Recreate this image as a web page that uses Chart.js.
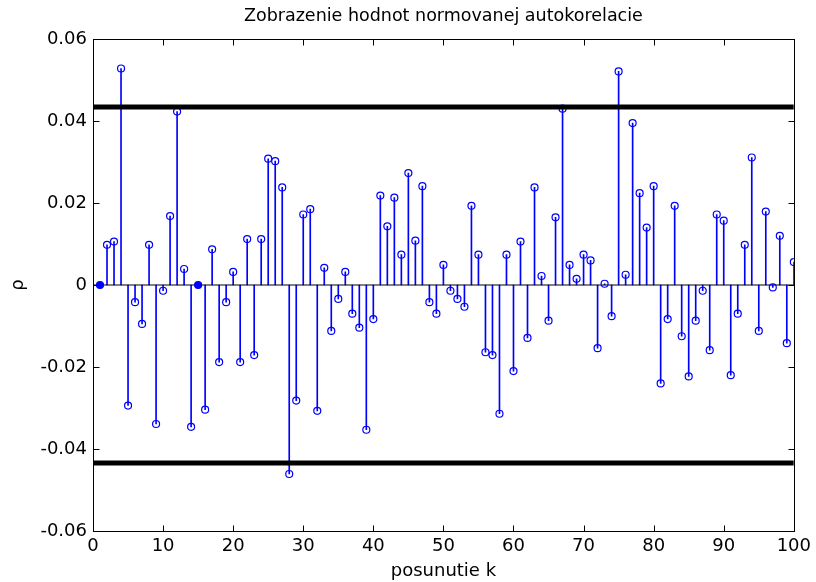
<!DOCTYPE html>
<html>
<head>
<meta charset="utf-8">
<title>Zobrazenie hodnot normovanej autokorelacie</title>
<script src="https://cdn.jsdelivr.net/npm/chart.js@4/dist/chart.umd.min.js"></script>
<style>
  html, body { margin: 0; padding: 0; background: #fff; }
  #chart { display: block; }
</style>
</head>
<body>
<canvas id="chart" width="816" height="582"></canvas>
<script>
// posunutie k
const lags = [
  1, 2, 3, 4, 5, 6, 7, 8, 9, 10,
  11, 12, 13, 14, 15, 16, 17, 18, 19, 20,
  21, 22, 23, 24, 25, 26, 27, 28, 29, 30,
  31, 32, 33, 34, 35, 36, 37, 38, 39, 40,
  41, 42, 43, 44, 45, 46, 47, 48, 49, 50,
  51, 52, 53, 54, 55, 56, 57, 58, 59, 60,
  61, 62, 63, 64, 65, 66, 67, 68, 69, 70,
  71, 72, 73, 74, 75, 76, 77, 78, 79, 80,
  81, 82, 83, 84, 85, 86, 87, 88, 89, 90,
  91, 92, 93, 94, 95, 96, 97, 98, 99, 100
];

// normovana autokorelacia rho(k), odcitane z obrazku
const rho = [
  0, 0.0098, 0.0106, 0.0528, -0.0294, -0.0042, -0.0095, 0.0098, -0.0339, -0.0014,
  0.0168, 0.0423, 0.0039, -0.0346, 0, -0.0304, 0.0087, -0.0188, -0.0042, 0.0032,
  -0.0188, 0.0112, -0.0171, 0.0112, 0.0308, 0.0302, 0.0238, -0.0461, -0.0282, 0.0172,
  0.0185, -0.0307, 0.0042, -0.0112, -0.0034, 0.0032, -0.0070, -0.0104, -0.0353, -0.0083,
  0.0218, 0.0143, 0.0213, 0.0074, 0.0273, 0.0108, 0.0241, -0.0042, -0.0070, 0.0049,
  -0.0014, -0.0034, -0.0053, 0.0193, 0.0074, -0.0164, -0.0171, -0.0314, 0.0074, -0.0210,
  0.0106, -0.0129, 0.0238, 0.0022, -0.0087, 0.0165, 0.0430, 0.0049, 0.0015, 0.0074,
  0.0060, -0.0154, 0.0003, -0.0076, 0.0521, 0.0025, 0.0395, 0.0224, 0.0140, 0.0241,
  -0.0240, -0.0083, 0.0193, -0.0125, -0.0223, -0.0087, -0.0014, -0.0159, 0.0172, 0.0157,
  -0.0220, -0.0070, 0.0098, 0.0311, -0.0112, 0.0179, -0.0006, 0.0120, -0.0142, 0.0056
];

// hranica vyznamnosti (+/-)
const confLimit = 0.0434;
const xRange = [0, 100];
const yRange = [-0.06, 0.06];
const xTickStep = 10;
const yTickStep = 0.02;

const stemColor = '#0000ff';
const fontFamily = '"DejaVu Sans", "Liberation Sans", Arial, sans-serif';

const points = lags.map((k, i) => ({ x: k, y: rho[i] }));
const upperLine = xRange.map(x => ({ x: x, y: confLimit }));
const lowerLine = xRange.map(x => ({ x: x, y: -confLimit }));
const baseLine = xRange.map(x => ({ x: x, y: 0 }));

// MATLAB-like box with inward ticks on all four sides
const boxTicks = {
  id: 'boxTicks',
  afterDatasetsDraw(chart) {
    const { ctx, chartArea: a, scales } = chart;
    const len = 6;
    const px = v => Math.round(v) + 0.5;
    ctx.save();
    ctx.strokeStyle = '#000';
    ctx.lineWidth = 1;
    ctx.beginPath();
    scales.x.ticks.forEach(t => {
      const x = px(scales.x.getPixelForValue(t.value));
      ctx.moveTo(x, px(a.bottom)); ctx.lineTo(x, px(a.bottom) - len);
      ctx.moveTo(x, px(a.top)); ctx.lineTo(x, px(a.top) + len);
    });
    scales.y.ticks.forEach(t => {
      const y = px(scales.y.getPixelForValue(t.value));
      ctx.moveTo(px(a.left), y); ctx.lineTo(px(a.left) + len, y);
      ctx.moveTo(px(a.right), y); ctx.lineTo(px(a.right) - len, y);
    });
    ctx.stroke();
    ctx.strokeRect(px(a.left), px(a.top), Math.round(a.right - a.left), Math.round(a.bottom - a.top));
    ctx.restore();
  }
};

new Chart(document.getElementById('chart'), {
  type: 'bar',
  data: {
    datasets: [
      {
        type: 'line',
        label: 'horna hranica',
        data: upperLine,
        borderColor: '#000',
        borderWidth: 5,
        pointRadius: 0,
        order: 0
      },
      {
        type: 'line',
        label: 'dolna hranica',
        data: lowerLine,
        borderColor: '#000',
        borderWidth: 5,
        pointRadius: 0,
        order: 0
      },
      {
        type: 'line',
        label: 'rho',
        data: points,
        showLine: false,
        pointStyle: 'circle',
        pointRadius: 3.5,
        pointBorderWidth: 1.2,
        pointBorderColor: stemColor,
        pointBackgroundColor: c => (c.raw && c.raw.y === 0 ? stemColor : 'rgba(0,0,0,0)'),
        order: 1
      },
      {
        type: 'line',
        label: 'baseline',
        data: baseLine,
        borderColor: '#000',
        borderWidth: 1,
        pointRadius: 0,
        order: 2
      },
      {
        type: 'bar',
        label: 'stem',
        data: points,
        backgroundColor: stemColor,
        borderWidth: 0,
        barThickness: 1,
        order: 3
      }
    ]
  },
  options: {
    responsive: false,
    animation: false,
    devicePixelRatio: 1,
    layout: { padding: { top: 0, right: 19, bottom: 0, left: 0 } },
    plugins: {
      legend: { display: false },
      tooltip: { enabled: false },
      title: {
        display: true,
        fullSize: false,
        text: 'Zobrazenie hodnot normovanej autokorelacie',
        color: '#000',
        font: { family: fontFamily, size: 17.5, weight: 'normal' },
        padding: { top: 6, bottom: 12 }
      }
    },
    scales: {
      x: {
        type: 'linear',
        min: xRange[0],
        max: xRange[1],
        offset: false,
        grid: { display: false, drawTicks: false, offset: false },
        border: { display: false },
        ticks: {
          stepSize: xTickStep,
          color: '#000',
          padding: 5,
          maxRotation: 0,
          font: { family: fontFamily, size: 18 }
        },
        title: {
          display: true,
          text: 'posunutie k',
          color: '#000',
          font: { family: fontFamily, size: 18 },
          padding: { top: 0, bottom: 0 }
        },
        afterFit(scale) { scale.height = 51; }
      },
      y: {
        type: 'linear',
        min: yRange[0],
        max: yRange[1],
        grid: { display: false, drawTicks: false },
        border: { display: false },
        ticks: {
          stepSize: yTickStep,
          color: '#000',
          padding: 6,
          font: { family: fontFamily, size: 18 },
          callback: v => (Math.abs(v) < 1e-9 ? '0' : (Math.round(v * 100) / 100).toFixed(2))
        },
        title: {
          display: true,
          text: 'ρ',
          color: '#000',
          font: { family: fontFamily, size: 18 },
          padding: { top: 8, bottom: 0 }
        },
        afterFit(scale) { scale.width = 93; }
      }
    }
  },
  plugins: [boxTicks]
});
</script>
</body>
</html>
